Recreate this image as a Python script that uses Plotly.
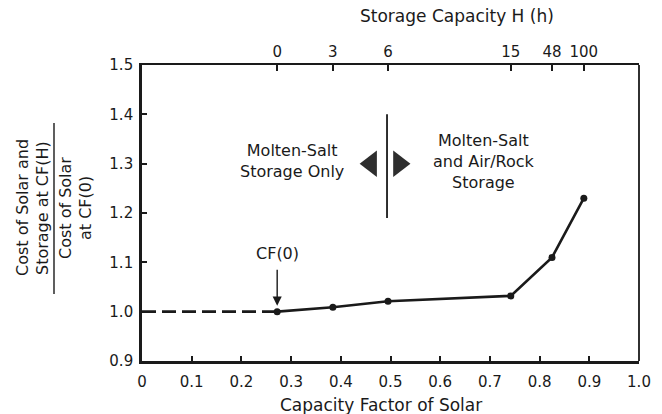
import plotly.graph_objects as go

# ---- data ----
capacity_factor = [0.272, 0.384, 0.495, 0.742, 0.825, 0.889]
cost_ratio = [1.0, 1.009, 1.021, 1.032, 1.11, 1.23]
storage_hours = ["0", "3", "6", "15", "48", "100"]

baseline_x = [0.0, 0.272]
baseline_y = [1.0, 1.0]

x_ticks = [0, 0.1, 0.2, 0.3, 0.4, 0.5, 0.6, 0.7, 0.8, 0.9, 1.0]
x_ticktext = ["0", "0.1", "0.2", "0.3", "0.4", "0.5", "0.6", "0.7", "0.8", "0.9", "1.0"]
y_ticks = [0.9, 1.0, 1.1, 1.2, 1.3, 1.4, 1.5]
y_ticktext = ["0.9", "1.0", "1.1", "1.2", "1.3", "1.4", "1.5"]

divider_x = 0.493
divider_y = [1.19, 1.40]
arrow_x = [0.461, 0.517]
arrow_y = [1.30, 1.30]

W, H = 662, 414
L, R, T, B = 142, 23, 65, 53
FONT = "DejaVu Sans, Verdana, sans-serif"
INK = "#1a1a1a"


def px(xp):
    return (xp - L) / (W - L - R)


def py(yp):
    return (H - B - yp) / (H - T - B)


fig = go.Figure()

# dashed baseline before CF(0)
fig.add_trace(go.Scatter(
    x=baseline_x, y=baseline_y, mode="lines",
    line=dict(color=INK, width=2.6, dash="14px,6px"),
    hoverinfo="skip", showlegend=False))

# main curve
fig.add_trace(go.Scatter(
    x=capacity_factor, y=cost_ratio, mode="lines+markers",
    line=dict(color=INK, width=2.6),
    marker=dict(color=INK, size=7),
    showlegend=False))

# invisible trace to activate the top axis
fig.add_trace(go.Scatter(
    x=capacity_factor, y=cost_ratio, xaxis="x2", mode="none",
    hoverinfo="skip", showlegend=False))

# divider line
fig.add_trace(go.Scatter(
    x=[divider_x, divider_x], y=divider_y, mode="lines",
    line=dict(color=INK, width=1.8), hoverinfo="skip", showlegend=False))

# direction triangles
fig.add_trace(go.Scatter(
    x=arrow_x, y=arrow_y, mode="markers",
    marker=dict(symbol=["triangle-left", "triangle-right"], size=23, color="#2e2e2e",
                line=dict(width=0)),
    hoverinfo="skip", showlegend=False))

axis_font = dict(family=FONT, size=15, color=INK)

fig.update_layout(
    width=W, height=H,
    margin=dict(l=L, r=R, t=T, b=B, pad=0),
    paper_bgcolor="white", plot_bgcolor="white",
    showlegend=False,
    xaxis=dict(
        range=[0, 1], tickvals=x_ticks, ticktext=x_ticktext,
        showgrid=False, zeroline=False,
        showline=True, linecolor=INK, linewidth=2.6,
        ticks="inside", ticklen=5, tickwidth=1.6, tickcolor=INK,
        tickfont=axis_font, ticklabelstandoff=5,
    ),
    xaxis2=dict(
        range=[0, 1], overlaying="x", side="top", anchor="y",
        tickvals=capacity_factor, ticktext=storage_hours,
        showgrid=False, zeroline=False,
        showline=True, linecolor=INK, linewidth=1.6,
        ticks="inside", ticklen=6, tickwidth=1.6, tickcolor=INK,
        tickfont=axis_font,
    ),
    yaxis=dict(
        range=[0.9, 1.5], tickvals=y_ticks, ticktext=y_ticktext,
        showgrid=False, zeroline=False,
        showline=True, linecolor=INK, linewidth=2.6,
        ticks="inside", ticklen=5, tickwidth=2.2, tickcolor=INK,
        tickfont=axis_font, ticklabelstandoff=3,
    ),
    shapes=[
        # right border
        dict(type="line", xref="paper", yref="paper", x0=1, x1=1, y0=0, y1=1,
             line=dict(color=INK, width=1.8)),
        # fraction bar of the y-axis title
        dict(type="line", xref="paper", yref="paper",
             x0=px(54), x1=px(54), y0=py(294), y1=py(123),
             line=dict(color=INK, width=1.4)),
    ],
)

ann = []
title_font = dict(family=FONT, size=17, color=INK)
ann.append(dict(text="Storage Capacity H (h)", xref="paper", yref="paper",
                x=px(457), y=py(16), showarrow=False, font=title_font,
                xanchor="center", yanchor="middle"))
ann.append(dict(text="Capacity Factor of Solar", xref="paper", yref="paper",
                x=px(381), y=py(405), showarrow=False, font=title_font,
                xanchor="center", yanchor="middle"))

ylab_font = dict(family=FONT, size=16, color=INK)
ylines = [("Cost of Solar and", 22), ("Storage at CF(H)", 42),
          ("Cost of Solar", 65), ("at CF(0)", 85)]
for t, xp in ylines:
    ann.append(dict(text=t, xref="paper", yref="paper", x=px(xp), y=py(208),
                    textangle=-90, showarrow=False, font=ylab_font,
                    xanchor="center", yanchor="middle"))

text_font = dict(family=FONT, size=16, color=INK)
ann.append(dict(text="Molten-Salt<br>Storage Only", xref="paper", yref="paper",
                x=px(292), y=py(161), showarrow=False, font=text_font,
                align="center", xanchor="center", yanchor="middle"))
ann.append(dict(text="Molten-Salt<br>and Air/Rock<br>Storage", xref="paper", yref="paper",
                x=px(484), y=py(161), showarrow=False, font=text_font,
                align="center", xanchor="center", yanchor="middle"))

ann.append(dict(text="CF(0)", x=capacity_factor[0], y=cost_ratio[0], xref="x", yref="y",
                showarrow=True, ax=0, ay=-58, arrowhead=2, arrowsize=1.3,
                arrowwidth=1.4, arrowcolor=INK, standoff=6, borderpad=6,
                font=dict(family=FONT, size=16, color=INK)))

fig.update_layout(annotations=ann)

fig.write_html("out.html")
